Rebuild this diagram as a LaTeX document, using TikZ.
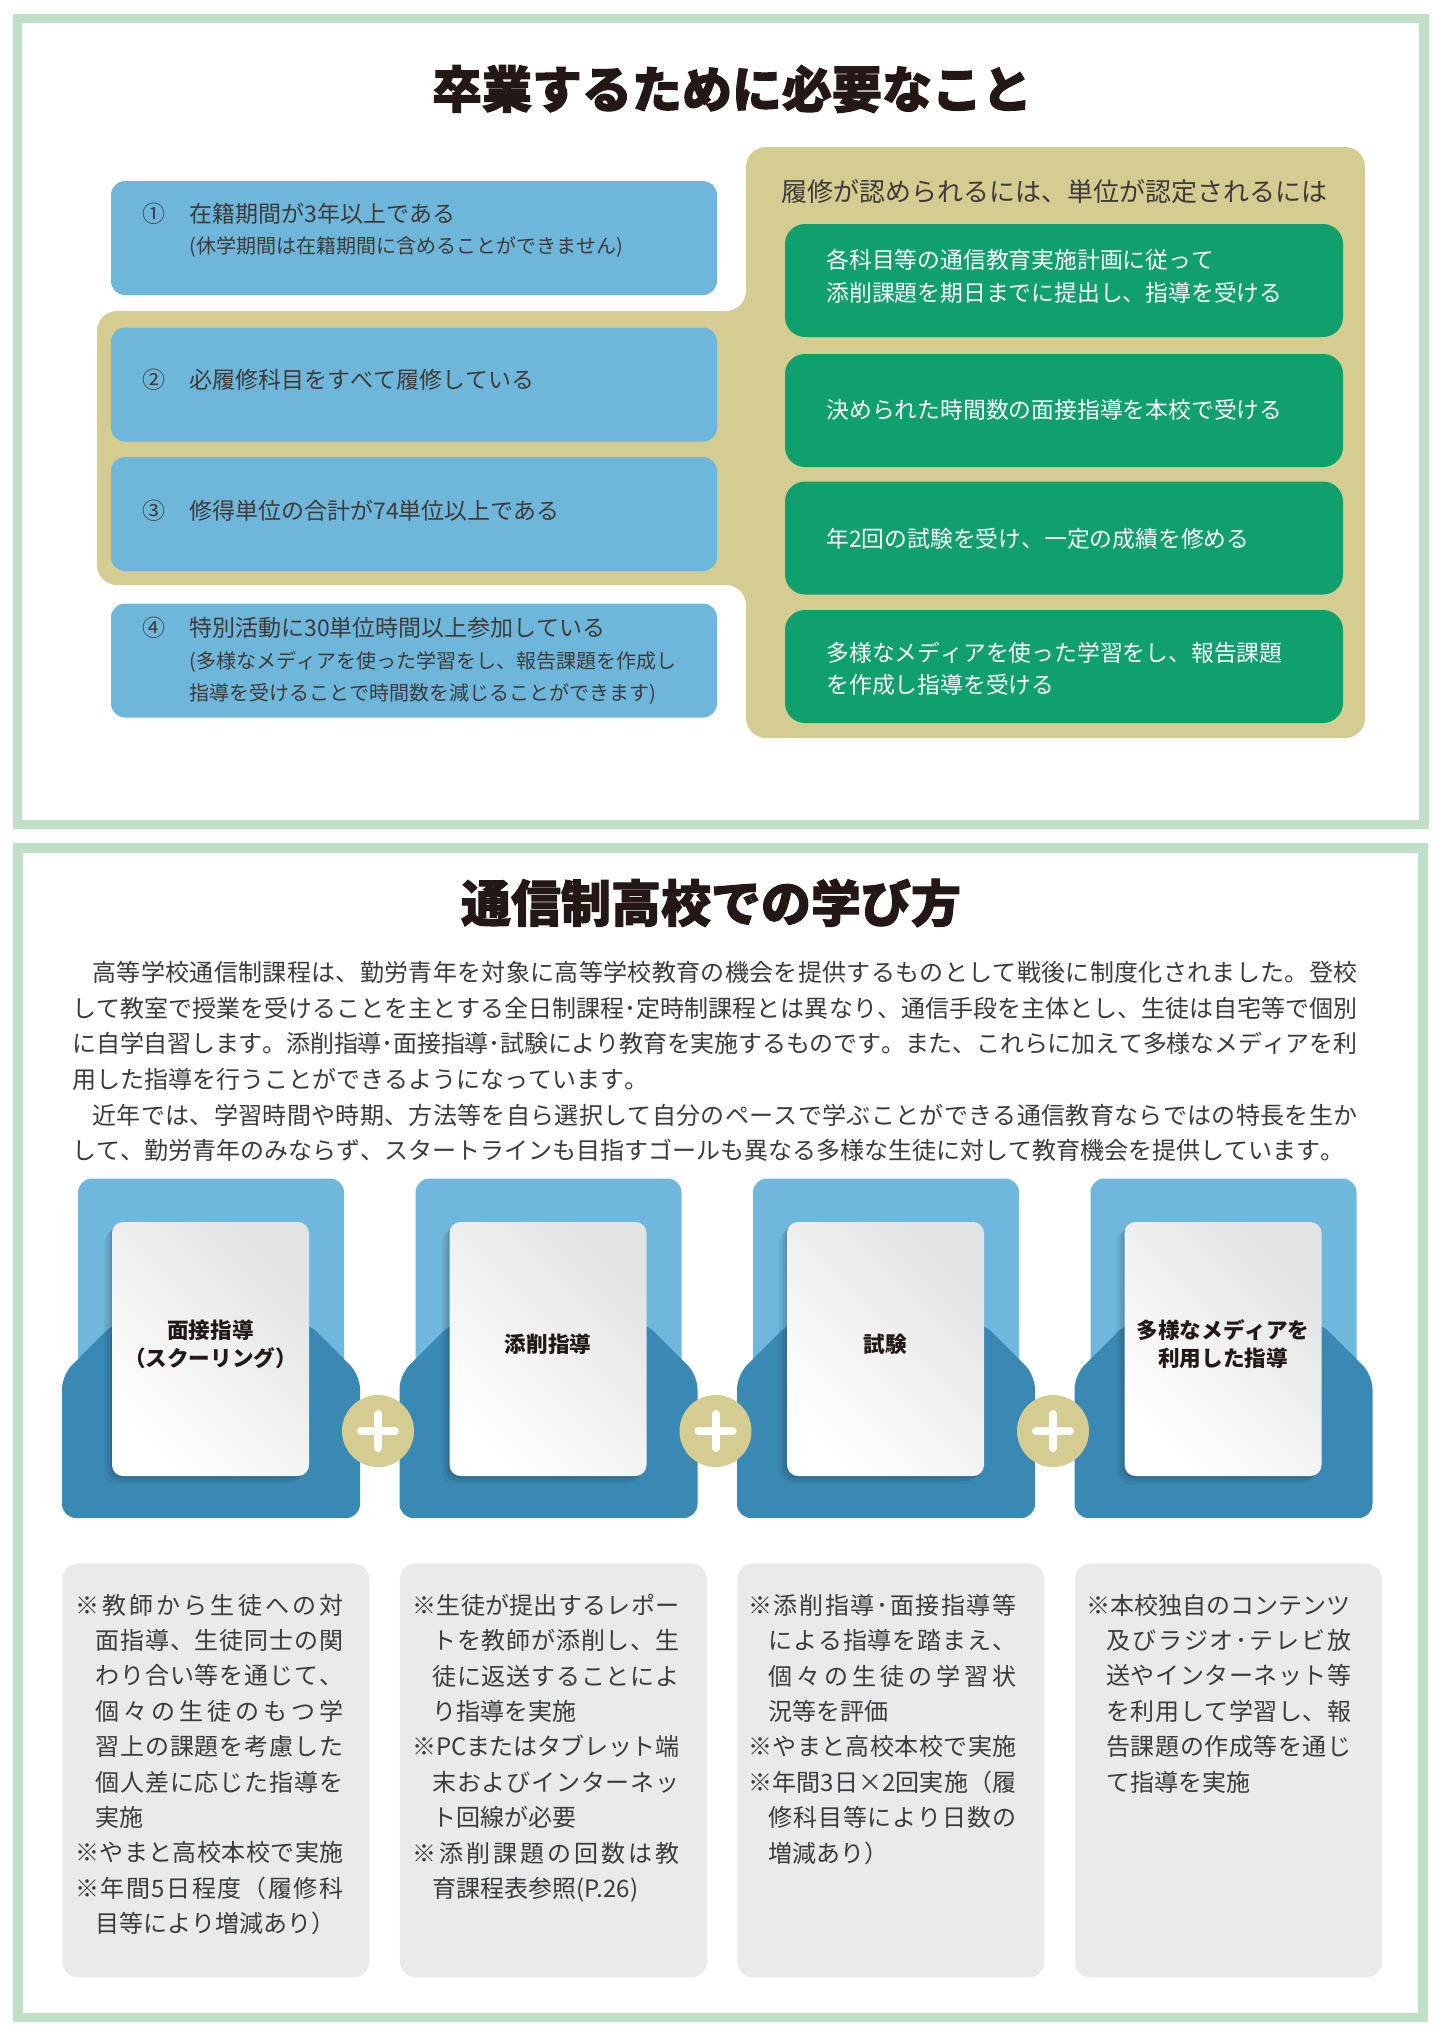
\documentclass[tikz,border=0pt]{standalone}
\usepackage{fontspec}
\setmainfont{Noto Sans CJK JP}
\newfontfamily\heavyfont[BoldFeatures={FakeBold=2}]{Noto Sans CJK JP}

\definecolor{framegreen}{HTML}{BFDFC6}
\definecolor{reqblue}{HTML}{6EB7DB}
\definecolor{tanc}{HTML}{D4CC91}
\definecolor{credgreen}{HTML}{10A06E}
\definecolor{lightblue}{HTML}{6FB7DC}
\definecolor{darkblue}{HTML}{3A89B5}
\definecolor{notegray}{HTML}{E9EAEB}
\definecolor{cardgray}{HTML}{E2E3E4}
\definecolor{textgray}{HTML}{3E3A39}
\definecolor{titleblack}{HTML}{231815}

% glue between japanese characters, so that full lines can be justified
\newcount\cjkc
\newcommand\setcjkclass[2]{\cjkc=#1 \loop\XeTeXcharclass\cjkc=7 \advance\cjkc by 1 \ifnum\cjkc<#2 \repeat}
\setcjkclass{"3000}{"3100}
\setcjkclass{"4E00}{"A000}
\setcjkclass{"FF01}{"FF70}
\XeTeXcharclass"203B=7
\XeTeXinterchartokenstate=1
\newcommand\jglue{\hskip0pt plus .2em minus .03em\relax}
\XeTeXinterchartoks 7 7 = {\jglue}
\XeTeXinterchartoks 0 7 = {\jglue}
\XeTeXinterchartoks 7 0 = {\jglue}
\newlength\pxu
\setlength\pxu{0.5pt}
\newcommand\jl[2]{\hbox to #1\pxu{#2}}

\tikzset{
    outerframe/.style={draw=framegreen, line width=4.75pt},
    headtitle/.style={inner sep=0pt, text=titleblack, font=\fontsize{25}{30}\heavyfont\bfseries},
    reqbox/.style={fill=reqblue, rounded corners=7pt, minimum width=303pt, minimum height=57pt, inner sep=0pt},
    credbox/.style={fill=credgreen, rounded corners=10pt, minimum width=279pt, minimum height=56.5pt, inner sep=0pt},
    reqtext/.style={anchor=west, inner sep=0pt, text=textgray, font=\fontsize{11.5}{14}\selectfont},
    reqnote/.style={reqtext, font=\fontsize{10}{12}\selectfont},
    credtext/.style={anchor=west, inner sep=0pt, text=white, font=\fontsize{11.4}{14}\selectfont},
    bodytext/.style={anchor=north west, inner sep=0pt, align=left, text=textgray, font=\fontsize{12}{17.8}\selectfont},
    notebox/.style={anchor=north west, fill=notegray, rounded corners=8pt, minimum width=153.5pt, minimum height=207pt, inner sep=0pt},
    notetext/.style={bodytext, font=\fontsize{12}{17.7}\selectfont},
    whitecard/.style={rounded corners=5.5pt, minimum width=98.5pt, minimum height=127pt, inner sep=0pt,
        top color=cardgray, bottom color=white, shading angle=-45},
    cardlabel/.style={align=center, inner sep=0pt, text=titleblack, font=\fontsize{10.8}{14}\selectfont\bfseries},
    plusdisc/.style={circle, fill=tanc, minimum size=36pt, inner sep=0pt},
    plusbar/.style={white, line width=4pt, line cap=round}
}

\begin{document}
\begin{tikzpicture}[x=0.5pt, y=-0.5pt]
    \useasboundingbox (0, 0) rectangle (1440, 2034);
    \fill [white] (0, 0) rectangle (1440, 2034);
    \draw [outerframe] (17.5, 18.5) rectangle (1424, 824.5);
    \draw [outerframe] (18, 848) rectangle (1423, 2017.5);

    % upper part
    \node [headtitle] (title1) at (732, 89) {卒業するために必要なこと};
    \fill [tanc, rounded corners=10pt] (746, 147) -- (1365, 147) -- (1365, 738) -- (746, 738) -- (746, 585) --
                (97, 585) -- (97, 311) -- (746, 311) -- cycle;
    \node [reqtext, font=\fontsize{13}{15}\selectfont] (credhead) at (781, 192) {履修が認められるには、単位が認定されるには};

    \node [reqbox] (req1) at (414, 238) {};
    \node [reqbox] (req2) at (414, 384.5) {};
    \node [reqbox] (req3) at (414, 514) {};
    \node [reqbox] (req4) at (414, 660.5) {};
    \node [reqtext] (num1) at (142, 214) {①};
    \node [reqtext] (req1a) at (189, 214) {在籍期間が3年以上である};
    \node [reqnote] (req1b) at (189, 247) {(休学期間は在籍期間に含めることができません)};
    \node [reqtext] (num2) at (142, 380) {②};
    \node [reqtext] (req2a) at (189, 380) {必履修科目をすべて履修している};
    \node [reqtext] (num3) at (142, 511) {③};
    \node [reqtext] (req3a) at (189, 511) {修得単位の合計が74単位以上である};
    \node [reqtext] (num4) at (142, 628) {④};
    \node [reqtext] (req4a) at (189, 628) {特別活動に30単位時間以上参加している};
    \node [reqnote] (req4b) at (189, 662) {(多様なメディアを使った学習をし、報告課題を作成し};
    \node [reqnote] (req4c) at (189, 694) {指導を受けることで時間数を減じることができます)};

    \node [credbox] (cred1) at (1064, 280.5) {};
    \node [credbox] (cred2) at (1064, 410.5) {};
    \node [credbox] (cred3) at (1064, 538) {};
    \node [credbox] (cred4) at (1064, 666.5) {};
    \node [credtext] (cred1a) at (826, 260) {各科目等の通信教育実施計画に従って};
    \node [credtext] (cred1b) at (826, 293) {添削課題を期日までに提出し、指導を受ける};
    \node [credtext] (cred2a) at (826, 410) {決められた時間数の面接指導を本校で受ける};
    \node [credtext] (cred3a) at (826, 539) {年2回の試験を受け、一定の成績を修める};
    \node [credtext] (cred4a) at (826, 653) {多様なメディアを使った学習をし、報告課題};
    \node [credtext] (cred4b) at (826, 685) {を作成し指導を受ける};

    % lower part
    \node [headtitle] (title2) at (711, 903) {通信制高校での学び方};
    \node [bodytext] (intro) at (72, 961) {%
        \hspace*{10pt}\jl{1265}{高等学校通信制課程は、勤労青年を対象に高等学校教育の機会を提供するものとして戦後に制度化されました。登校}\\
        \jl{1285}{して教室で授業を受けることを主とする全日制課程･定時制課程とは異なり、通信手段を主体とし、生徒は自宅等で個別}\\
        \jl{1285}{に自学自習します。添削指導･面接指導･試験により教育を実施するものです。また、これらに加えて多様なメディアを利}\\
        用した指導を行うことができるようになっています。\\
        \hspace*{10pt}\jl{1265}{近年では、学習時間や時期、方法等を自ら選択して自分のペースで学ぶことができる通信教育ならではの特長を生か}\\
        して、勤労青年のみならず、スタートラインも目指すゴールも異なる多様な生徒に対して教育機会を提供しています。};

    \foreach \i in {0,...,3} {
        \pgfmathsetmacro\cx{62+337.5*\i}
        \fill [lightblue, rounded corners=7pt] (\cx+16, 1178.5) rectangle (\cx+282, 1450);
        \fill [darkblue, rounded corners=7pt] (\cx, 1518) -- (\cx, 1375) -- (\cx+53, 1322) -- (\cx+245, 1322) --
                    (\cx+298, 1375) -- (\cx+298, 1518) -- cycle;
        \foreach \s/\o in {8/0.05, 5/0.07, 2/0.09}
            \fill [black, opacity=\o, rounded corners=6pt] (\cx+50-\s, 1222+\s) rectangle (\cx+247-\s, 1476+\s);
        \node [whitecard] (card\i) at (\cx+148.5, 1349) {};
        \node [notebox] (note\i) at (\cx, 1563) {};
    }
    \node [cardlabel] (lab1) at (210.5, 1344) {面接指導\\（スクーリング）};
    \node [cardlabel] (lab2) at (548, 1344) {添削指導};
    \node [cardlabel] (lab3) at (885.5, 1344) {試験};
    \node [cardlabel] (lab4) at (1223, 1344) {多様なメディアを\\利用した指導};

    \foreach \i in {1,2,3} {
        \node [plusdisc] (plus\i) at (40.5+337.5*\i, 1431) {};
        \draw [plusbar] (plus\i.center) ++(-17, 0) -- ++(34, 0);
        \draw [plusbar] (plus\i.center) ++(0, -17) -- ++(0, 34);
    }

    \node [notetext] (note0t) at (75, 1593.5) {%
        \jl{268}{※教師から生徒への対}\\
        \hspace*{10pt}\jl{248}{面指導、生徒同士の関}\\
        \hspace*{10pt}\jl{248}{わり合い等を通じて、}\\
        \hspace*{10pt}\jl{248}{個々の生徒のもつ学}\\
        \hspace*{10pt}\jl{248}{習上の課題を考慮した}\\
        \hspace*{10pt}\jl{248}{個人差に応じた指導を}\\
        \hspace*{10pt}実施\\
        \jl{268}{※やまと高校本校で実施}\\
        \jl{268}{※年間5日程度（履修科}\\
        \hspace*{10pt}目等により増減あり）};
    \node [notetext] (note1t) at (412, 1593.5) {%
        \jl{267}{※生徒が提出するレポー}\\
        \hspace*{10pt}\jl{247}{トを教師が添削し、生}\\
        \hspace*{10pt}\jl{247}{徒に返送することによ}\\
        \hspace*{10pt}り指導を実施\\
        \jl{267}{※PCまたはタブレット端}\\
        \hspace*{10pt}\jl{247}{末およびインターネッ}\\
        \hspace*{10pt}ト回線が必要\\
        \jl{267}{※添削課題の回数は教}\\
        \hspace*{10pt}育課程表参照(P.26)};
    \node [notetext] (note2t) at (748, 1593.5) {%
        \jl{268}{※添削指導･面接指導等}\\
        \hspace*{10pt}\jl{248}{による指導を踏まえ、}\\
        \hspace*{10pt}\jl{248}{個々の生徒の学習状}\\
        \hspace*{10pt}況等を評価\\
        \jl{268}{※やまと高校本校で実施}\\
        \jl{268}{※年間3日×2回実施（履}\\
        \hspace*{10pt}\jl{248}{修科目等により日数の}\\
        \hspace*{10pt}増減あり）};
    \node [notetext] (note3t) at (1086, 1593.5) {%
        \jl{264}{※本校独自のコンテンツ}\\
        \hspace*{10pt}\jl{245}{及びラジオ･テレビ放}\\
        \hspace*{10pt}\jl{245}{送やインターネット等}\\
        \hspace*{10pt}\jl{245}{を利用して学習し、報}\\
        \hspace*{10pt}\jl{245}{告課題の作成等を通じ}\\
        \hspace*{10pt}て指導を実施};

\end{tikzpicture}
\end{document}
